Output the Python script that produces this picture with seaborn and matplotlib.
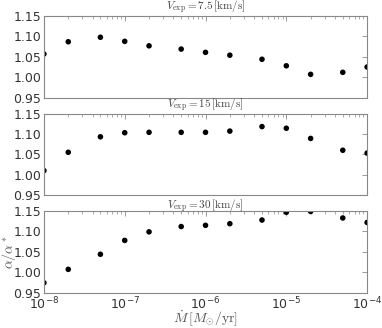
import numpy as np
import pandas as pd
import matplotlib
matplotlib.use("Agg")
import matplotlib.pyplot as plt
import seaborn as sns

mdot = [1e-8, 2e-8, 5e-8, 1e-7, 2e-7, 5e-7, 1e-6, 2e-6, 5e-6, 1e-5, 2e-5, 5e-5, 1e-4]
alpha_v75 = [1.057, 1.087, 1.098, 1.088, 1.077, 1.069, 1.061, 1.054, 1.044, 1.028, 1.007, 1.012, 1.025]
alpha_v15 = [1.010, 1.055, 1.093, 1.103, 1.104, 1.104, 1.104, 1.107, 1.118, 1.114, 1.089, 1.060, 1.053]
alpha_v30 = [0.974, 1.007, 1.044, 1.078, 1.099, 1.112, 1.115, 1.119, 1.128, 1.147, 1.149, 1.133, 1.122]
titles = [r"$V_{\rm exp}=7.5\,[{\rm km/s}]$", r"$V_{\rm exp}=15\,[{\rm km/s}]$", r"$V_{\rm exp}=30\,[{\rm km/s}]$"]
yticks = [0.95, 1.00, 1.05, 1.10, 1.15]

sns.set_theme(style="white")
plt.rcParams["font.family"] = ["DejaVu Sans"]
plt.rcParams["mathtext.fontset"] = "cm"

fig, axes = plt.subplots(3, 1, figsize=(3.82, 3.28), dpi=100, sharex=True)
fig.subplots_adjust(left=0.115, right=0.961, top=0.951, bottom=0.108, hspace=0.196)

for ax, vals, t in zip(axes, [alpha_v75, alpha_v15, alpha_v30], titles):
    df = pd.DataFrame({"mdot": mdot, "alpha": vals})
    sns.scatterplot(data=df, x="mdot", y="alpha", ax=ax, color="black", s=16,
                    edgecolor="none", linewidth=0)
    ax.set_xscale("log")
    ax.set_xlim(1e-8, 1e-4)
    ax.set_ylim(0.95, 1.15)
    ax.set_yticks(yticks)
    ax.set_yticklabels([f"{v:.2f}" for v in yticks])
    ax.set_title(t, fontsize=8, pad=1.5, color="#444444")
    ax.set_xlabel("")
    ax.set_ylabel("")
    for sp in ax.spines.values():
        sp.set_color("#888888")
        sp.set_linewidth(0.8)
    ax.tick_params(axis="both", which="both", direction="in", top=True, right=True,
                   color="#888888", labelsize=9, labelcolor="#333333")
    ax.tick_params(which="major", length=3.5, width=0.6)
    ax.tick_params(which="minor", length=1.8, width=0.5)
    ax.tick_params(axis="y", pad=2)
    ax.tick_params(axis="x", pad=2.5)

axes[2].set_xticks([1e-8, 1e-7, 1e-6, 1e-5, 1e-4])

pos = axes[2].get_position()
fig.text(8.5 / 382, (pos.y0 + pos.y1) / 2, r"$\alpha/\alpha^*$", fontsize=10, color="#555555",
         rotation=90, ha="center", va="center")
fig.text((pos.x0 + pos.x1) / 2, 1 - 318 / 328, r"$\dot{M}\,[M_{\odot}/{\rm yr}]$", fontsize=10,
         color="#555555", ha="center", va="center")

fig.savefig("out.png", dpi=100)
